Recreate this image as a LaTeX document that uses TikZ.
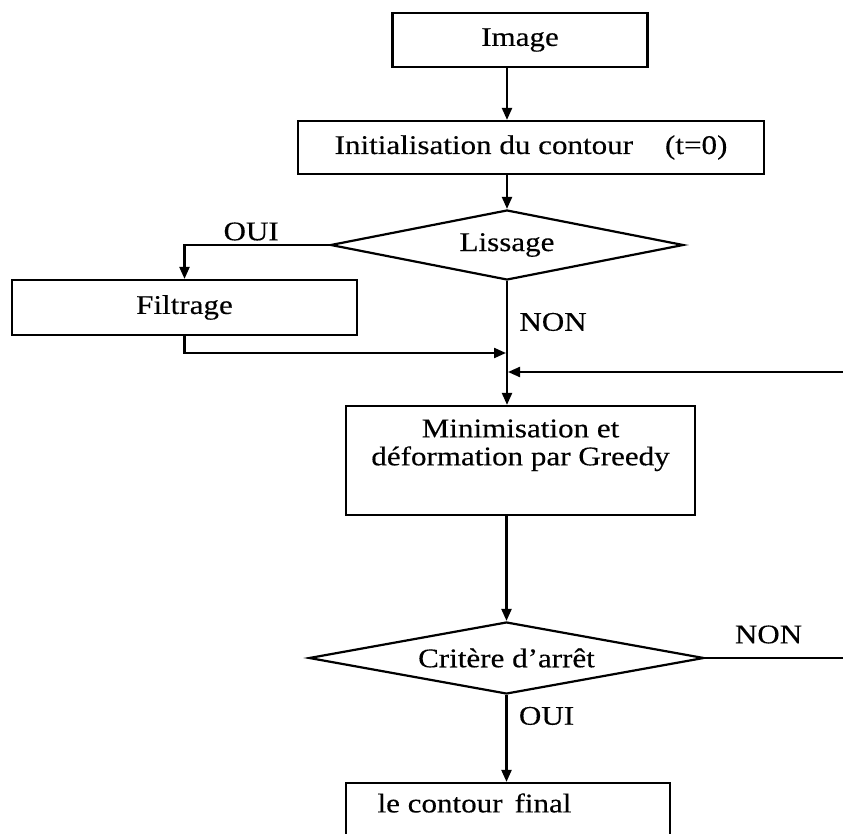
\documentclass[tikz,border=0pt]{standalone}
\usepackage{fontspec}
\setmainfont{Liberation Serif}[FakeStretch=1.15,FakeBold=0.3]
\usetikzlibrary{shapes.geometric,positioning,arrows.meta}
\tikzset{
    boite/.style={draw,line width=2.2pt,rectangle,inner sep=0pt},
    losange/.style={draw,line width=2.2pt,diamond,aspect=5,inner sep=0pt},
    fleche/.style={line width=2.2pt,-{Triangle[length=12pt,width=10pt]}},
    trait/.style={line width=2.2pt}
}

\begin{document}
\begin{tikzpicture}[x=1pt,y=-1pt,every node/.append style={font=\fontsize{27}{28}\selectfont}]
    \clip (0,0) rectangle (843,834);

    % Dessine les boîtes
    \node[boite,minimum width=255pt,minimum height=54pt] (img) at (520,40) {Image};
    \node[boite,minimum width=466pt,minimum height=53pt] (init) at (531,147.5) {Initialisation du contour\hspace{32pt}(t=0)};
    \node[losange,minimum width=353pt,minimum height=70pt] (liss) at (507,245) {Lissage};
    \node[boite,minimum width=345pt,minimum height=55pt] (filt) at (184.5,307.5) {Filtrage};
    \node[boite,minimum width=349pt,minimum height=109pt] (mini) at (520.5,460.5) {};
    \node[below=11pt of mini.north,align=center] (minitxt) {Minimisation et\\déformation par Greedy};
    \node[losange,minimum width=395pt,minimum height=72pt] (crit) at (506.5,658) {Critère d’arrêt};
    \node[boite,minimum width=324pt,minimum height=90pt] (final) at (508,828) {};
    \node[anchor=west] (finaltxt) at (374,803) {le contour\hspace{12pt}final};

    % Dessine les flèches
    \draw[fleche] (img.south -| liss.north) -- (init.north -| liss.north);
    \draw[fleche] (init.south -| liss.north) -- (liss.north);
    \draw[fleche] (liss.west) -| node[pos=0.27,above] {OUI} (filt.north);
    \draw[fleche] (liss.south) -- node[pos=0.33,right=8pt] {NON} (mini.north -| liss.south);

    \coordinate (joint1) at (507,353);
    \draw[fleche,shorten >=1pt] (filt.south) |- (joint1);
    \coordinate (retour) at (843,372);
    \coordinate (joint2) at (507,372);
    \draw[fleche,shorten >=1pt] (retour) -- (joint2);

    \draw[fleche] (mini.south -| crit.north) -- (crit.north);
    \coordinate (sortie) at (843,658);
    \draw[trait] (crit.east) -- node[pos=0.46,above=10pt] {NON} (sortie);
    \draw[fleche] (crit.south) -- node[pos=0.24,right=8pt] {OUI} (final.north -| crit.south);
\end{tikzpicture}
\end{document}
